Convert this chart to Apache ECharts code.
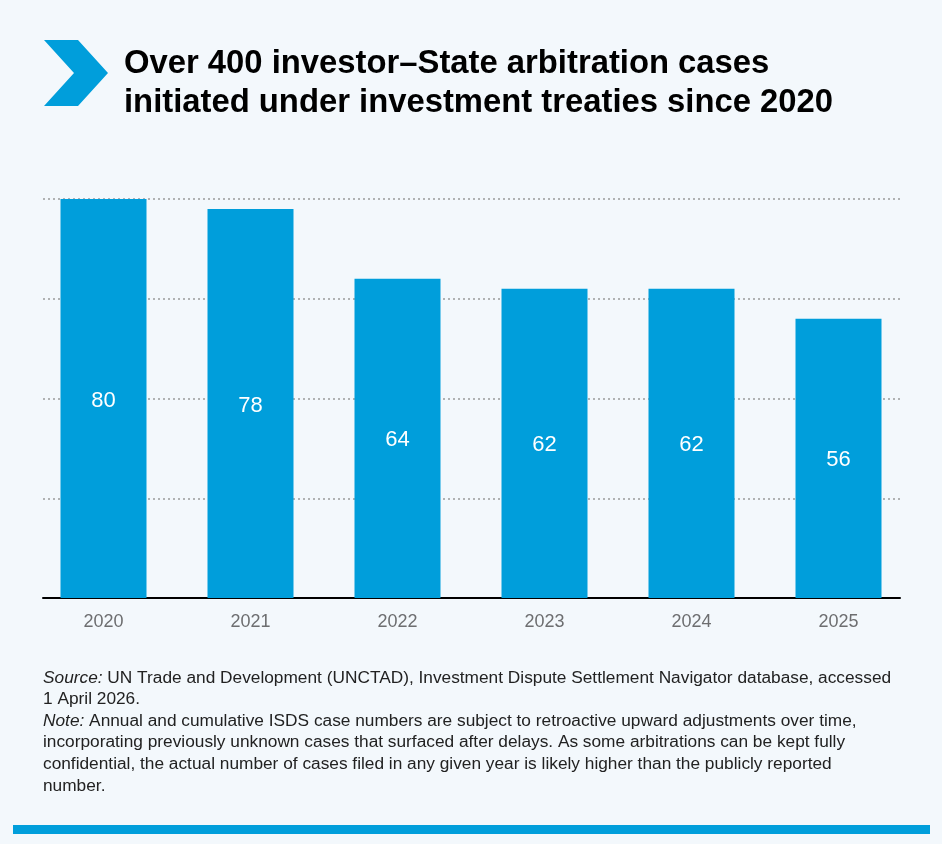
<!DOCTYPE html>
<html>
<head>
<meta charset="utf-8">
<script src="https://cdn.jsdelivr.net/npm/echarts@6/dist/echarts.min.js"></script>
<style>
html,body{margin:0;padding:0;background:#f3f8fc;}
#chart{width:942px;height:844px;}
</style>
</head>
<body>
<div id="chart"></div>
<script>
const categories = ['2020','2021','2022','2023','2024','2025'];
const cases = [80, 78, 64, 62, 62, 56];
const yTicks = [0, 20, 40, 60, 80];

const BLUE = '#009edb';
const FONT = '"Liberation Sans", Arial, Helvetica, sans-serif';

const chart = echarts.init(document.getElementById('chart'), null, {renderer:'canvas'});
const option = {
  backgroundColor: '#f3f8fc',
  animation: false,
  grid: [
    {left: 30, right: 30, top: 199, bottom: 246, containLabel: false},
    {left: 43, right: 42, top: 199, bottom: 246, containLabel: false}
  ],
  xAxis: [
    {
      type: 'category', gridIndex: 0, data: categories,
      axisLine: {show: false}, axisTick: {show: false},
      axisLabel: {color: '#6d6e70', fontSize: 18, fontFamily: FONT, margin: 15}
    },
    {
      type: 'category', gridIndex: 1, data: categories,
      axisLine: {show: true, lineStyle: {color: '#000', width: 2}},
      axisTick: {show: false}, axisLabel: {show: false}
    }
  ],
  yAxis: [
    {
      type: 'value', gridIndex: 0, min: yTicks[0], max: yTicks[yTicks.length-1], interval: 20,
      axisLabel: {show: false}, axisLine: {show: false}, axisTick: {show: false},
      splitLine: {show: false}
    },
    {
      type: 'value', gridIndex: 1, min: yTicks[0], max: yTicks[yTicks.length-1], interval: 20,
      axisLabel: {show: false}, axisLine: {show: false}, axisTick: {show: false},
      splitLine: {show: true, lineStyle: {color: '#9a9a9a', type: [2, 3], width: 1.5}}
    }
  ],
  series: [
    {
      type: 'bar', xAxisIndex: 0, yAxisIndex: 0, data: cases,
      barWidth: 86, z: 3,
      itemStyle: {color: BLUE},
      label: {show: true, position: 'inside', color: '#fff', fontSize: 22, fontFamily: FONT, offset: [0, 2]}
    }
  ],
  graphic: [
    {
      type: 'polygon',
      shape: {points: [[44,40],[78,40],[108,73],[78,106],[44,106],[74,73]]},
      style: {fill: BLUE}
    },
    {
      type: 'text', left: 124, top: 44,
      style: {
        text: 'Over 400 investor\u2013State arbitration cases\ninitiated under investment treaties since 2020',
        font: 'bold 32.8px ' + FONT, fill: '#000', lineHeight: 39
      }
    },
    {
      type: 'text', left: 43, top: 667,
      style: {
        text: '{i|Source:} {n|UN Trade and Development (UNCTAD), Investment Dispute Settlement Navigator database, accessed}\n' +
              '{n|1 April 2026.}\n' +
              '{i|Note:} {n|Annual and cumulative ISDS case numbers are subject to retroactive upward adjustments over time,}\n' +
              '{n|incorporating previously unknown cases that surfaced after delays. As some arbitrations can be kept fully}\n' +
              '{n|confidential, the actual number of cases filed in any given year is likely higher than the publicly reported}\n' +
              '{n|number.}',
        font: '17.3px ' + FONT, fill: '#222', lineHeight: 21.6,
        rich: {
          i: {fontStyle: 'italic', fontSize: 17.3, fontFamily: FONT, fill: '#222', lineHeight: 21.6},
          n: {fontSize: 17.3, fontFamily: FONT, fill: '#222', lineHeight: 21.6}
        }
      }
    },
    {
      type: 'rect', shape: {x: 13, y: 825, width: 917, height: 9},
      style: {fill: BLUE}
    }
  ]
};
chart.setOption(option);
</script>
</body>
</html>
